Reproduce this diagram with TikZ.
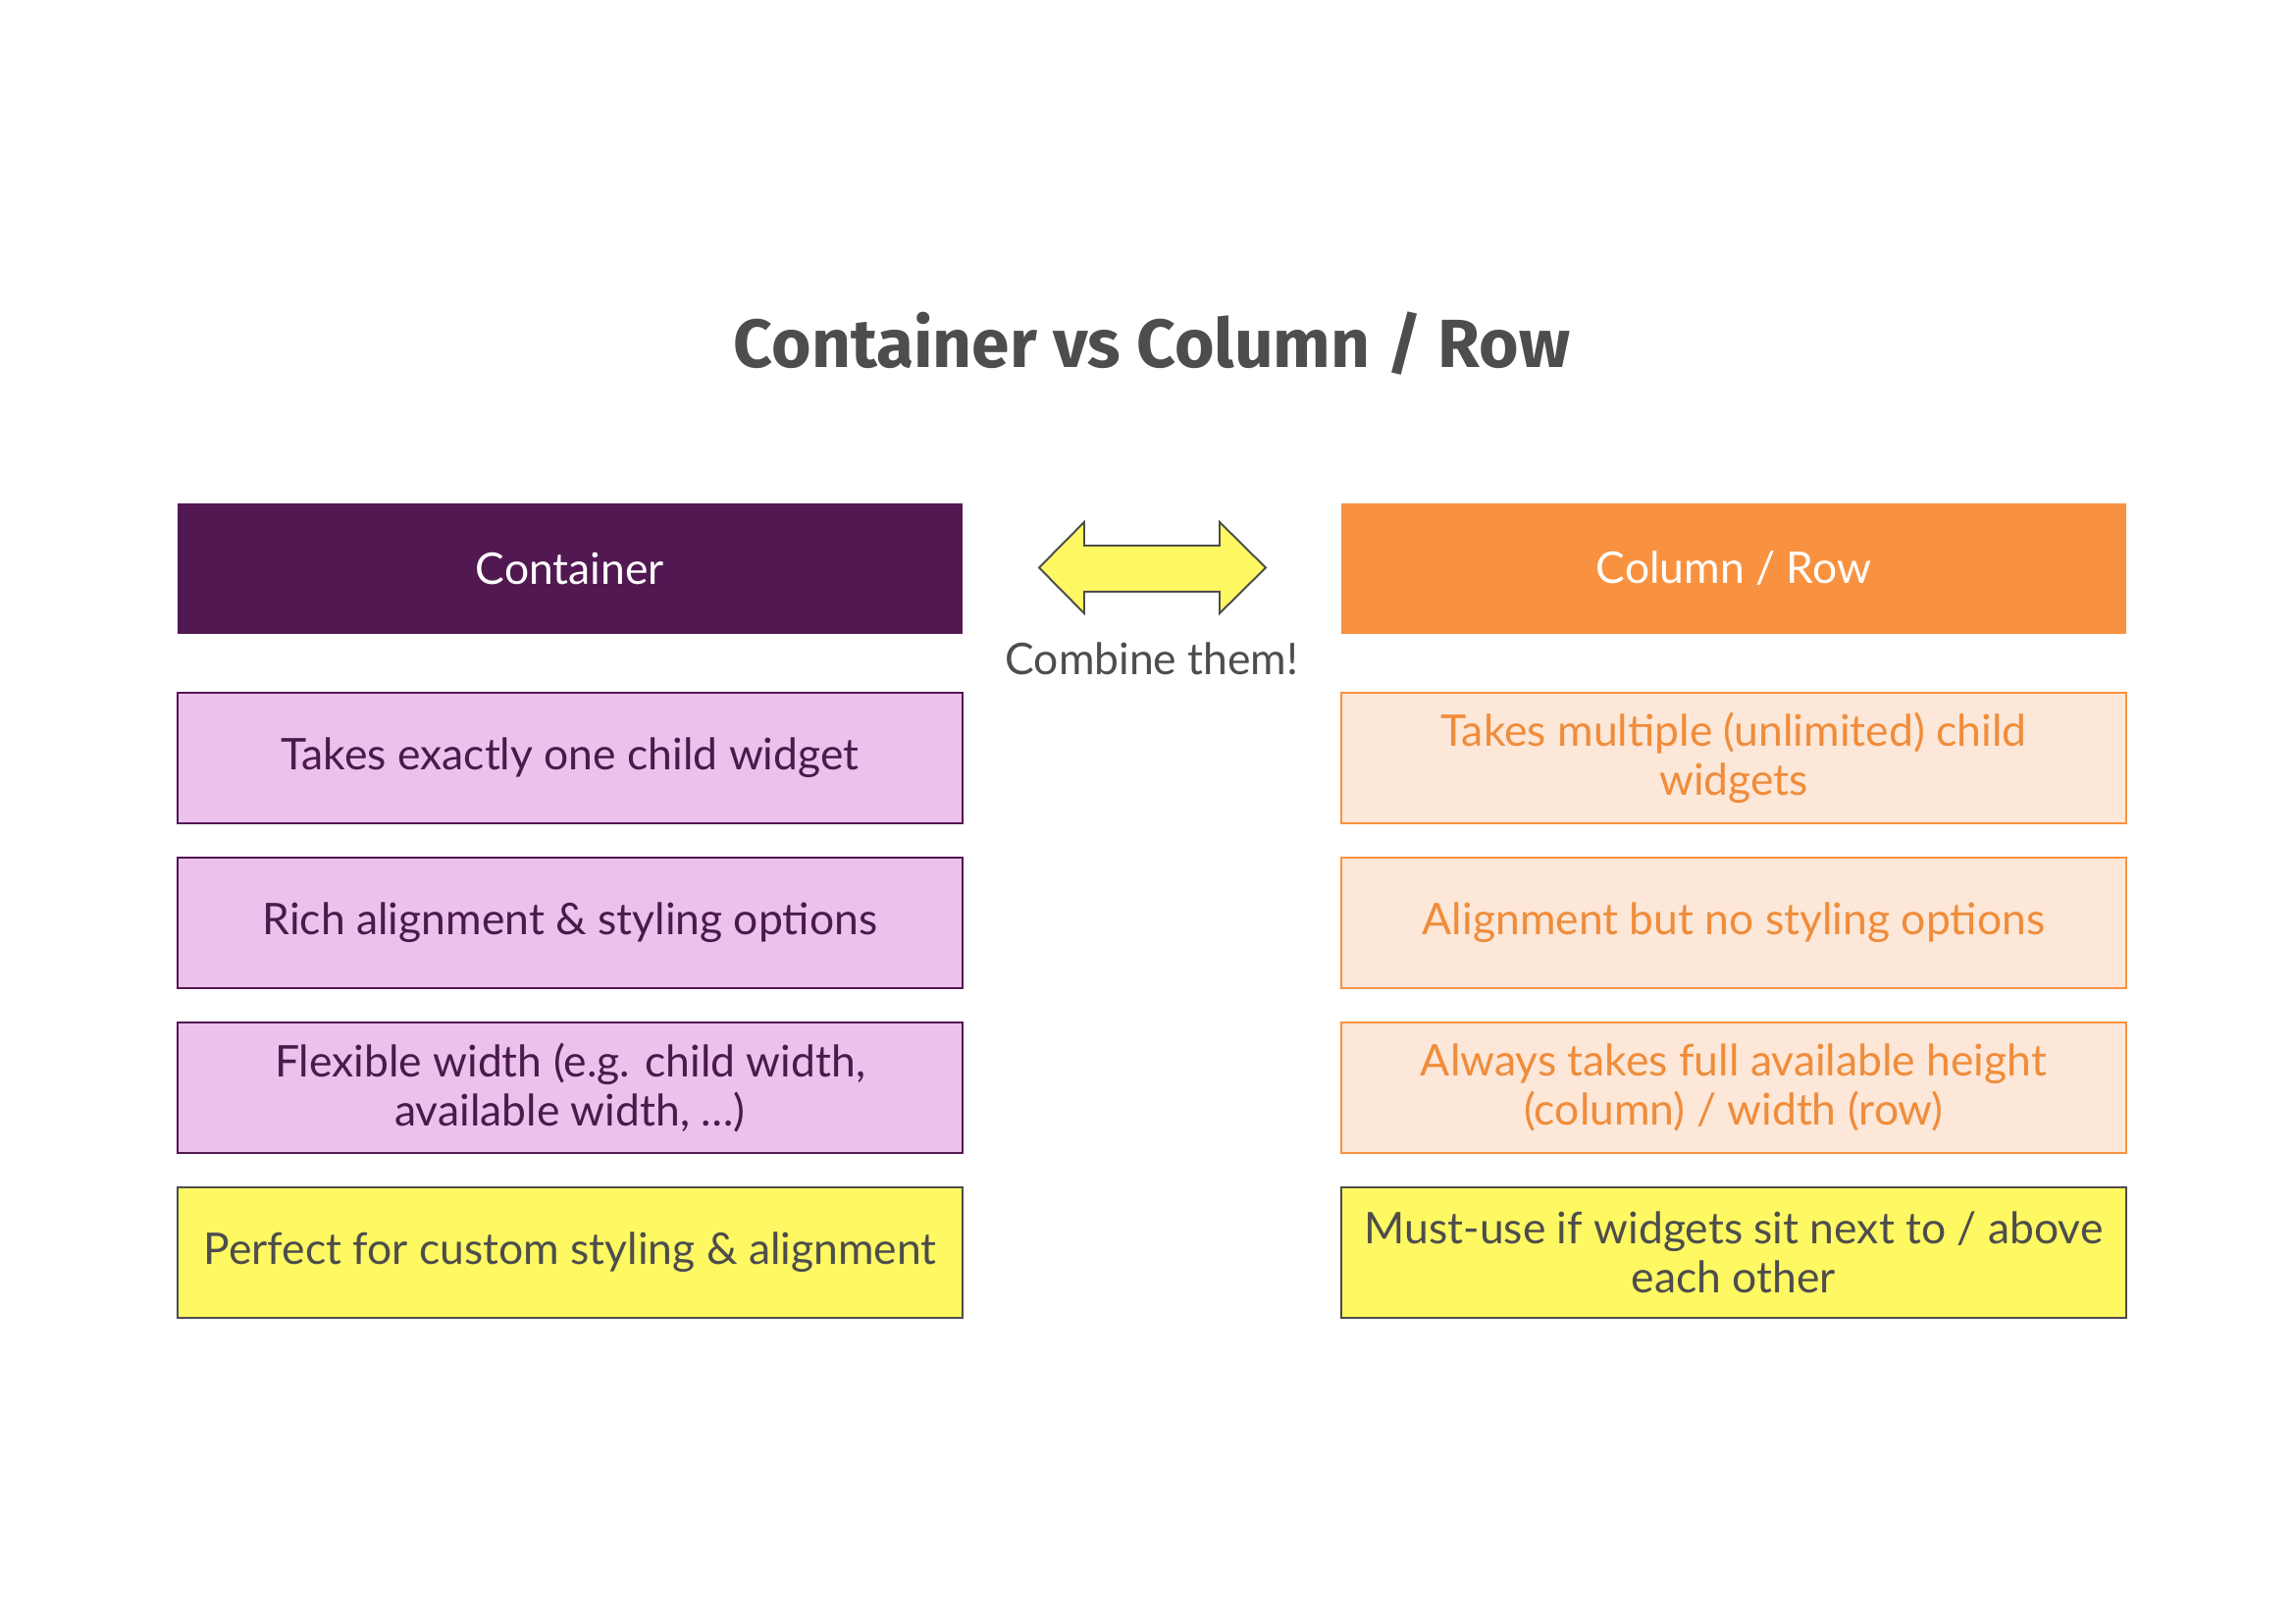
\documentclass[tikz,border=0pt]{standalone}
\usepackage{fontspec}
\setmainfont{Lato}
\newfontfamily\titlefont{Fira Sans}
\usetikzlibrary{positioning}
\definecolor{txtgray}{HTML}{4D4D4D}
\definecolor{hpurple}{HTML}{521852}
\definecolor{horange}{HTML}{F99240}
\definecolor{lpurple}{HTML}{ECC1EC}
\definecolor{lorange}{HTML}{FCE7D8}
\definecolor{otext}{HTML}{F08C3A}
\definecolor{ptext}{HTML}{4A1A4A}
\definecolor{yel}{HTML}{FEF862}
\tikzset{
  box/.style={draw, line width=0.7pt, minimum width=288pt, minimum height=48pt, align=center, inner sep=2pt, font=\fontsize{16}{17.8}\selectfont},
  headp/.style={box, draw=none, fill=hpurple, text=white},
  heado/.style={box, draw=none, fill=horange, text=white},
  pbox/.style={box, draw=hpurple, fill=lpurple, text=ptext},
  obox/.style={box, draw=horange, fill=lorange, text=otext},
  ybox/.style={box, draw=txtgray, fill=yel, text=txtgray},
}
\begin{document}
\begin{tikzpicture}[x=0.36pt, y=-0.36pt]
\useasboundingbox[fill=white] (0,0) rectangle (2339,1654);
\node[font=\titlefont\bfseries\fontsize{25}{30}\selectfont, text=txtgray] (title) at (1174,350) {Container vs Column / Row};
\node[headp] (hc) at (581,579.5) {Container};
\node[heado] (hr) at (1767,579.5) {Column / Row};
\node[pbox] (p1) at (581,772.5) {Takes exactly one child widget};
\node[pbox] (p2) at (581,940.5) {Rich alignment \& styling options};
\node[pbox] (p3) at (581,1108.5) {Flexible width (e.g. child width,\\available width, …)};
\node[ybox] (p4) at (581,1276.5) {Perfect for custom styling \& alignment};
\node[obox] (o1) at (1767,772.5) {Takes multiple (unlimited) child\\widgets};
\node[obox] (o2) at (1767,940.5) {Alignment but no styling options};
\node[obox] (o3) at (1767,1108.5) {Always takes full available height\\(column) / width (row)};
\node[ybox] (o4) at (1767,1276.5) {Must-use if widgets sit next to / above\\each other};
\draw[line width=0.7pt, draw=txtgray, fill=yel, line join=miter]
  (1059,578.5) -- (1105,532) -- (1105,556) -- (1243,556) -- (1243,532) -- (1290,578.5)
  -- (1243,625) -- (1243,603) -- (1105,603) -- (1105,625) -- cycle;
\node[font=\fontsize{16}{17}\selectfont, text=txtgray] (comb) at (1174,671) {Combine them!};
\end{tikzpicture}
\end{document}
